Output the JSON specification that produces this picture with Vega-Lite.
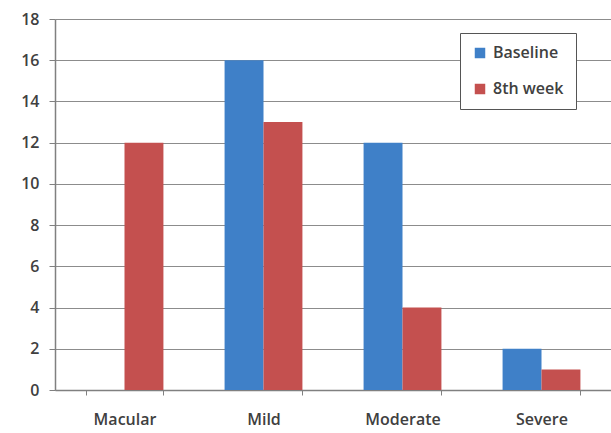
{
  "$schema": "https://vega.github.io/schema/vega-lite/v6.json",
  "width": 556,
  "height": 371,
  "autosize": {"type": "none"},
  "padding": {"left": 55, "top": 19, "right": 0, "bottom": 43},
  "background": "white",
  "data": {
    "values": [
      {"category": "Macular", "series": "Baseline", "value": 0},
      {"category": "Macular", "series": "8th week", "value": 12},
      {"category": "Mild", "series": "Baseline", "value": 16},
      {"category": "Mild", "series": "8th week", "value": 13},
      {"category": "Moderate", "series": "Baseline", "value": 12},
      {"category": "Moderate", "series": "8th week", "value": 4},
      {"category": "Severe", "series": "Baseline", "value": 2},
      {"category": "Severe", "series": "8th week", "value": 1}
    ]
  },
  "mark": {"type": "bar"},
  "encoding": {
    "x": {
      "field": "category",
      "type": "nominal",
      "sort": ["Macular", "Mild", "Moderate", "Severe"],
      "scale": {"paddingInner": 0.44, "paddingOuter": 0.22},
      "axis": {
        "title": null,
        "labelAngle": 0,
        "tickBand": "extent",
        "tickSize": 5,
        "labelPadding": 16,
        "grid": false
      }
    },
    "xOffset": {
      "field": "series",
      "type": "nominal",
      "sort": ["Baseline", "8th week"],
      "scale": {"paddingInner": 0, "paddingOuter": 0}
    },
    "y": {
      "field": "value",
      "type": "quantitative",
      "scale": {"domain": [0, 18], "nice": false},
      "axis": {
        "title": null,
        "values": [0, 2, 4, 6, 8, 10, 12, 14, 16, 18],
        "tickSize": 6,
        "labelPadding": 10,
        "grid": true
      }
    },
    "color": {
      "field": "series",
      "type": "nominal",
      "sort": ["Baseline", "8th week"],
      "scale": {"domain": ["Baseline", "8th week"], "range": ["#3F80C8", "#C4504F"]},
      "legend": {
        "title": null,
        "orient": "none",
        "legendX": 405,
        "legendY": 14,
        "symbolType": "square",
        "symbolSize": 110,
        "symbolStrokeWidth": 0,
        "labelFontSize": 16,
        "labelFont": "Open Sans",
        "labelFontWeight": 600,
        "labelColor": "#404040",
        "rowPadding": 20,
        "padding": 12,
        "strokeColor": "#555555",
        "fillColor": "white",
        "labelOffset": 5
      }
    }
  },
  "config": {
    "view": {"stroke": null},
    "axis": {
      "domainColor": "#808080",
      "tickColor": "#808080",
      "gridColor": "#8c8c8c",
      "gridWidth": 1.2,
      "domainWidth": 1.5,
      "labelFont": "Open Sans",
      "labelFontSize": 16,
      "labelFontWeight": 600,
      "labelColor": "#404040"
    }
  }
}
